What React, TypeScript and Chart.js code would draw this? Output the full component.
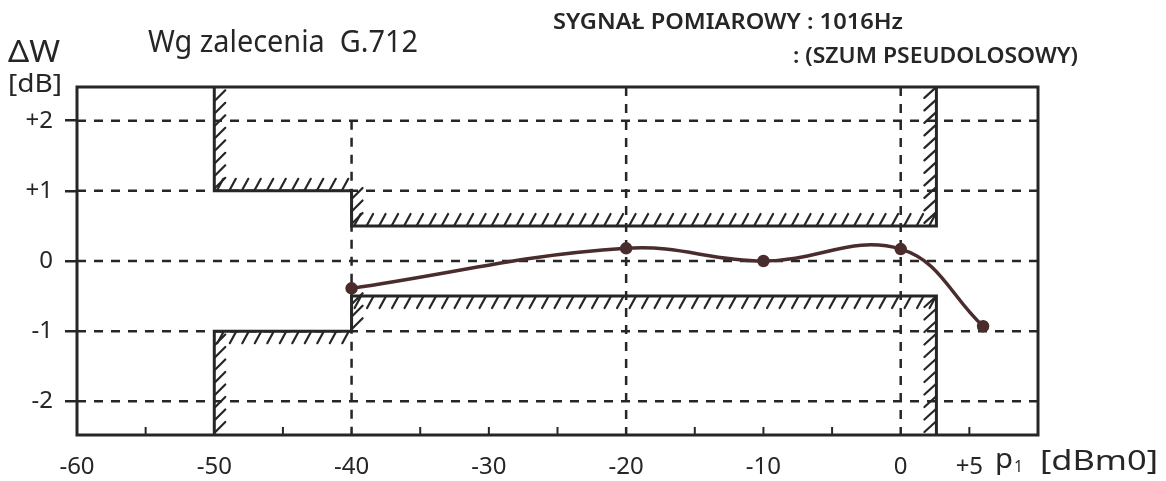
import { useEffect, useRef } from "react";
import { Chart, registerables } from "chart.js";

Chart.register(...registerables);

const X_MIN = -60;
const X_MAX = 10;
const Y_MIN = -2.48;
const Y_MAX = 2.48;

const xTickValues = [-60, -50, -40, -30, -20, -10, 0, 5];
const xTickLabels = ["-60", "-50", "-40", "-30", "-20", "-10", "0", "+5"];
const xMinorTicks = [-55, -45, -35, -30, -25, -15, -10, -5, 5];
const yTickValues = [2, 1, 0, -1, -2];
const yTickLabels = ["+2", "+1", "0", "-1", "-2"];
const xGridValues = [-40, -20, 0];
const xGridFrom = [2, Y_MAX, Y_MAX];

const measuredX = [-40, -20, -10, 0, 6];
const measuredY = [-0.39, 0.18, 0.0, 0.17, -0.93];

const upperMaskX = [-50, -50, -40, -40, 2.6, 2.6];
const upperMaskY = [Y_MAX, 1, 1, 0.5, 0.5, Y_MAX];
const upperHatch = ["right", "up", "right", "up", "left"];
const lowerMaskX = [-50, -50, -40, -40, 2.6, 2.6];
const lowerMaskY = [Y_MIN, -1, -1, -0.5, -0.5, Y_MIN];
const lowerHatch = ["right", "down", "right", "down", "left"];

const INK = "#262626";
const CURVE = "#4a2c2c";
const FONT = "'Noto Sans', 'DejaVu Sans', sans-serif";

function fitText(ctx: CanvasRenderingContext2D, text: string, x: number, baseline: number, width: number, font: string) {
  ctx.save();
  ctx.font = font;
  ctx.textAlign = "left";
  ctx.textBaseline = "alphabetic";
  const w = ctx.measureText(text).width || 1;
  ctx.translate(x, baseline);
  ctx.scale(width / w, 1);
  ctx.fillStyle = INK;
  ctx.fillText(text, 0, 0);
  ctx.restore();
}

function hatchSegment(ctx: CanvasRenderingContext2D, x1: number, y1: number, x2: number, y2: number, side: string) {
  const step = 12.5;
  if (Math.abs(y1 - y2) < 0.5) {
    const a = Math.min(x1, x2);
    const b = Math.max(x1, x2);
    for (let x = a + 3; x < b - 5; x += step) {
      ctx.beginPath();
      if (side === "up") {
        ctx.moveTo(x, y1 - 1);
        ctx.lineTo(x + 6, y1 - 12);
      } else {
        ctx.moveTo(x + 6, y1 + 1);
        ctx.lineTo(x, y1 + 12);
      }
      ctx.stroke();
    }
  } else {
    const a = Math.min(y1, y2);
    const b = Math.max(y1, y2);
    for (let y = b - 3; y > a + 5; y -= step) {
      ctx.beginPath();
      if (side === "right") {
        ctx.moveTo(x1 + 1, y);
        ctx.lineTo(x1 + 11, y - 10);
      } else {
        ctx.moveTo(x1 - 12, y);
        ctx.lineTo(x1 - 1, y - 10);
      }
      ctx.stroke();
    }
  }
}

const decorPlugin = {
  id: "decor",
  beforeDatasetsDraw(chart: any) {
    const { ctx, chartArea: ca, scales } = chart;
    const xs = scales.x;
    const ys = scales.y;
    ctx.save();
    ctx.strokeStyle = INK;
    ctx.lineWidth = 2.5;
    ctx.setLineDash([9, 8]);
    yTickValues.forEach((v) => {
      const y = ys.getPixelForValue(v);
      ctx.beginPath();
      ctx.moveTo(ca.left, y);
      ctx.lineTo(ca.right, y);
      ctx.stroke();
    });
    xGridValues.forEach((v, i) => {
      const x = xs.getPixelForValue(v);
      ctx.beginPath();
      ctx.moveTo(x, ys.getPixelForValue(xGridFrom[i]));
      ctx.lineTo(x, ca.bottom);
      ctx.stroke();
    });
    ctx.setLineDash([]);
    ctx.lineWidth = 2;
    xMinorTicks.forEach((v) => {
      const x = xs.getPixelForValue(v);
      ctx.beginPath();
      ctx.moveTo(x, ca.bottom);
      ctx.lineTo(x, ca.bottom - 8);
      ctx.stroke();
    });
    ctx.restore();
  },
  afterDatasetsDraw(chart: any) {
    const { ctx, chartArea: ca, scales } = chart;
    const xs = scales.x;
    const ys = scales.y;
    ctx.save();
    ctx.beginPath();
    ctx.rect(ca.left, ca.top, ca.right - ca.left, ca.bottom - ca.top);
    ctx.clip();
    ctx.strokeStyle = INK;
    ctx.lineWidth = 2.2;
    ctx.lineCap = "round";
    const masks: [number[], number[], string[]][] = [
      [upperMaskX, upperMaskY, upperHatch],
      [lowerMaskX, lowerMaskY, lowerHatch],
    ];
    masks.forEach(([mx, my, sides]) => {
      for (let i = 0; i < sides.length; i++) {
        hatchSegment(
          ctx,
          xs.getPixelForValue(mx[i]),
          ys.getPixelForValue(my[i]),
          xs.getPixelForValue(mx[i + 1]),
          ys.getPixelForValue(my[i + 1]),
          sides[i]
        );
      }
    });
    ctx.restore();
    ctx.save();
    ctx.strokeStyle = INK;
    ctx.lineWidth = 3;
    ctx.strokeRect(ca.left, ca.top, ca.right - ca.left, ca.bottom - ca.top);
    ctx.restore();
  },
  afterDraw(chart: any) {
    const { ctx } = chart;
    fitText(ctx, "ΔW", 8, 62, 52, `30px ${FONT}`);
    fitText(ctx, "[dB]", 8, 92, 54, `26px ${FONT}`);
    fitText(ctx, "Wg zalecenia  G.712", 148, 52, 270, `30px ${FONT}`);
    fitText(ctx, "SYGNAŁ POMIAROWY : 1016Hz", 553, 29, 350, `600 22px ${FONT}`);
    fitText(ctx, ": (SZUM PSEUDOLOSOWY)", 793, 63, 285, `600 21px ${FONT}`);
    fitText(ctx, "p", 995, 468, 18, `28px ${FONT}`);
    fitText(ctx, "1", 1014, 472, 9, `17px ${FONT}`);
    fitText(ctx, "[dBm0]", 1040, 470, 118, `27px ${FONT}`);
  },
};

export default function App() {
  const ref = useRef<HTMLCanvasElement | null>(null);

  useEffect(() => {
    if (!ref.current) return;
    const chart = new Chart(ref.current, {
      type: "line",
      data: {
        datasets: [
          {
            label: "pomiar",
            data: measuredX.map((x, i) => ({ x, y: measuredY[i] })),
            borderColor: CURVE,
            backgroundColor: CURVE,
            borderWidth: 3.5,
            pointRadius: 4.5,
            pointBackgroundColor: CURVE,
            pointBorderColor: CURVE,
            tension: 0.4,
            order: 0,
          },
          {
            label: "maska górna",
            data: upperMaskX.map((x, i) => ({ x, y: upperMaskY[i] })),
            borderColor: INK,
            borderWidth: 3,
            pointRadius: 0,
            tension: 0,
            order: 1,
          },
          {
            label: "maska dolna",
            data: lowerMaskX.map((x, i) => ({ x, y: lowerMaskY[i] })),
            borderColor: INK,
            borderWidth: 3,
            pointRadius: 0,
            tension: 0,
            order: 1,
          },
        ],
      },
      options: {
        animation: false,
        responsive: true,
        maintainAspectRatio: false,
        layout: { padding: { top: 87, right: 128, left: 0, bottom: 0 } },
        plugins: { legend: { display: false }, tooltip: { enabled: false }, title: { display: false } },
        scales: {
          x: {
            type: "linear",
            min: X_MIN,
            max: X_MAX,
            afterBuildTicks: (s: any) => {
              s.ticks = xTickValues.map((v) => ({ value: v }));
            },
            afterFit: (s: any) => {
              s.height = 46;
            },
            ticks: {
              callback: (_v: any, i: number) => xTickLabels[i],
              font: { family: FONT, size: 24 },
              color: INK,
              padding: 10,
              maxRotation: 0,
              autoSkip: false,
            },
            grid: { display: false },
            border: { display: false },
          },
          y: {
            type: "linear",
            min: Y_MIN,
            max: Y_MAX,
            afterBuildTicks: (s: any) => {
              s.ticks = yTickValues.map((v) => ({ value: v }));
            },
            afterFit: (s: any) => {
              s.width = 77;
            },
            ticks: {
              callback: (_v: any, i: number) => yTickLabels[i],
              font: { family: FONT, size: 24 },
              color: INK,
              padding: 12,
            },
            grid: { display: true, drawOnChartArea: false, drawTicks: true, tickLength: 12, color: INK, lineWidth: 2.5 },
            border: { display: false },
          },
        },
      },
      plugins: [decorPlugin],
    });
    return () => chart.destroy();
  }, []);

  return (
    <div style={{ position: "fixed", left: 0, top: 0, width: 1166, height: 481, background: "#fff" }}>
      <canvas ref={ref} />
    </div>
  );
}
